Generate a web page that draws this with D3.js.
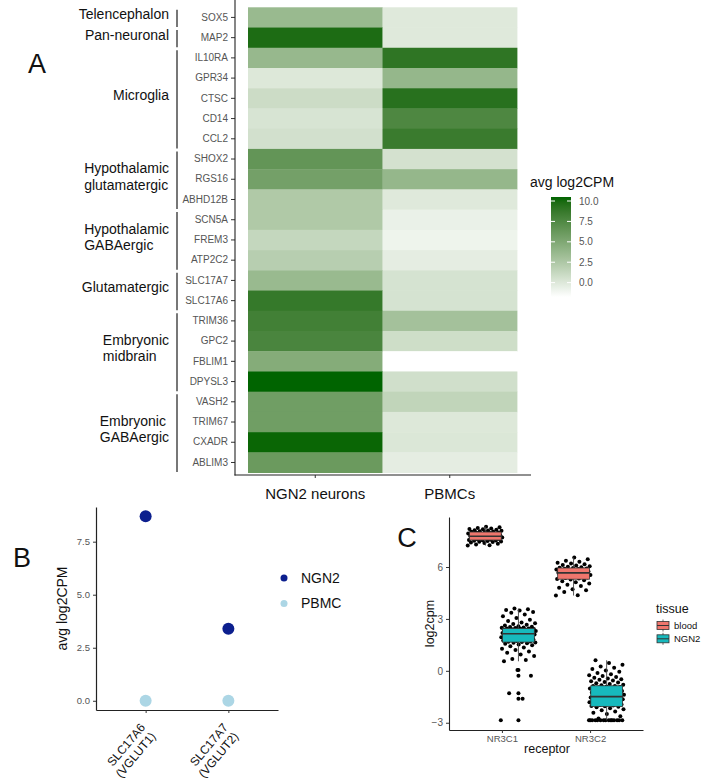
<!DOCTYPE html>
<html>
<head>
<meta charset="utf-8">
<script src="https://cdn.jsdelivr.net/npm/d3@7"></script>
<style>
body { margin: 0; background: #fff; }
svg { display: block; font-family: "Liberation Sans", Arial, sans-serif; }
</style>
</head>
<body>
<div id="chart"></div>
<script>
// ---- panel A: marker gene heatmap
const genes = ["SOX5","MAP2","IL10RA","GPR34","CTSC","CD14","CCL2","SHOX2","RGS16","ABHD12B","SCN5A","FREM3","ATP2C2","SLC17A7","SLC17A6","TRIM36","GPC2","FBLIM1","DPYSL3","VASH2","TRIM67","CXADR","ABLIM3"];
const ngn2Avg = [3.6, 9.8, 3.7, 0.0, 0.9, 0.3, 0.6, 6.5, 5.6, 2.4, 2.4, 1.3, 2.0, 3.6, 8.8, 8.2, 7.8, 4.7, 10.49, 5.8, 5.8, 10.3, 6.1];
const pbmcAvg = [-0.1, -0.1, 9.1, 3.8, 9.4, 7.6, 8.6, 0.5, 3.8, -0.1, -0.7, -0.9, -0.4, 0.4, 0.4, 3.0, 0.8, -1.76, 0.7, 1.5, 0.0, 0.1, -0.4];
const sampleTypes = ["NGN2 neurons", "PBMCs"];
const cellGroups = [
  {label: ["Telencephalon"], n: 1},
  {label: ["Pan-neuronal"], n: 1},
  {label: ["Microglia"], n: 5},
  {label: ["Hypothalamic", "glutamatergic"], n: 3},
  {label: ["Hypothalamic", "GABAergic"], n: 3},
  {label: ["Glutamatergic"], n: 2},
  {label: ["Embryonic", "midbrain"], n: 4},
  {label: ["Embryonic", "GABAergic"], n: 4}
];
const heatTicks = [0, 2.5, 5, 7.5, 10];

// ---- panel B: VGLUT expression
const vglutGenes = ["SLC17A6|(VGLUT1)", "SLC17A7|(VGLUT2)"];
const vglutNGN2 = [8.7, 3.4];
const vglutPBMC = [0.0, 0.0];
const vglutTicks = [0, 2.5, 5, 7.5];

// ---- panel C: glucocorticoid receptors
const receptors = ["NR3C1", "NR3C2"];
const tissues = ["blood", "NGN2"];
const tissueColors = ["#ef766d", "#17b9bd"];
const bloodNR3C1 = [7.24, 7.25, 7.30, 7.35, 7.38, 7.42, 7.44, 7.46, 7.48, 7.50, 7.52, 7.53, 7.55,
  7.56, 7.58, 7.60, 7.62, 7.64, 7.66, 7.68, 7.70, 7.71, 7.73, 7.74, 7.76, 7.77,
  7.79, 7.80, 7.82, 7.84, 7.86, 7.88, 7.90, 7.92, 7.94, 7.96, 7.98, 8.00, 8.02,
  8.03, 8.05, 8.07, 8.09, 8.11, 8.13, 8.15, 8.18, 8.20, 8.23, 8.26, 8.30, 8.33];
const bloodNR3C2 = [4.35, 4.37, 4.55, 4.65, 4.72, 4.80, 4.90, 4.98, 5.05, 5.12, 5.18, 5.23, 5.28,
  5.30, 5.33, 5.36, 5.39, 5.42, 5.45, 5.48, 5.51, 5.54, 5.57, 5.60, 5.62, 5.65,
  5.67, 5.69, 5.72, 5.74, 5.76, 5.78, 5.80, 5.83, 5.85, 5.88, 5.90, 5.92, 5.94,
  5.96, 5.99, 6.02, 6.05, 6.08, 6.12, 6.16, 6.20, 6.25, 6.30, 6.36, 6.45, 6.55];
const ngn2NR3C1 = [-2.86, -1.62, -1.30, -0.28, 0.05,
  0.55, 0.62, 0.68, 0.85, 0.95, 1.05, 1.12, 1.20, 1.28, 1.35, 1.42, 1.48, 1.52, 1.56, 1.60, 1.62, 1.64,
  1.66,
  1.68, 1.70, 1.73, 1.75, 1.78, 1.80, 1.83, 1.85, 1.88, 1.90, 1.92, 1.94, 1.96, 1.98, 2.00, 2.02, 2.04, 2.06, 2.08, 2.10, 2.12,
  2.14,
  2.15, 2.16, 2.18, 2.19, 2.20, 2.22, 2.23, 2.25, 2.26, 2.28, 2.30, 2.32, 2.34, 2.35, 2.36, 2.38, 2.39, 2.40, 2.42, 2.43, 2.44,
  2.45,
  2.47, 2.49, 2.51, 2.53, 2.55, 2.58, 2.62, 2.66, 2.70, 2.75, 2.80, 2.88, 2.95, 3.05, 3.15, 3.25, 3.35, 3.40, 3.48, 3.52, 3.56, 3.60];
const ngn2NR3C2 = [-2.86, -2.86, -2.86, -2.86, -2.86, -2.86, -2.86, -2.86, -2.86, -2.86, -2.86, -2.86, -2.86, -2.86, -2.86,
  -2.75, -2.62, -2.50, -2.42, -2.35, -2.28, -2.22, -2.16, -2.11, -2.07,
  -2.05,
  -2.03, -2.00, -1.97, -1.95, -1.92, -1.90, -1.87, -1.85, -1.82, -1.80, -1.78, -1.75, -1.73, -1.70, -1.68, -1.66, -1.64, -1.62, -1.60, -1.58, -1.56, -1.54, -1.52, -1.50,
  -1.48, -1.46, -1.44, -1.42, -1.40, -1.38, -1.35, -1.33, -1.30, -1.28, -1.25, -1.22, -1.20, -1.17, -1.14, -1.11, -1.08, -1.05, -1.02, -0.99, -0.96, -0.93, -0.90, -0.88, -0.87,
  -0.84, -0.80, -0.76, -0.72, -0.68, -0.64, -0.60, -0.56, -0.52, -0.48, -0.44, -0.40, -0.35, -0.30, -0.25, -0.20, -0.12, -0.05, 0.02, 0.10, 0.18, 0.25, 0.35, 0.45, 0.61];
const gcTicks = [-3, 0, 3, 6];

const W = 704, H = 780;
const svg = d3.select("#chart").append("svg").attr("width", W).attr("height", H);
svg.append("rect").attr("width", W).attr("height", H).attr("fill", "#fff");

const grey = "#555";

function panelLetter(t, x, y) {
  svg.append("text").attr("x", x).attr("y", y).attr("dy", "0.36em")
    .attr("text-anchor", "middle").attr("font-size", 27).attr("fill", "#111").text(t);
}

// ===================== A =====================
const ax = d3.scaleBand().domain(sampleTypes).range([248, 517]);
const ay = d3.scaleBand().domain(genes).range([7.3, 472.6]);
const heatRows = genes.flatMap((g, i) => [
  {gene: g, sample: sampleTypes[0], value: ngn2Avg[i]},
  {gene: g, sample: sampleTypes[1], value: pbmcAvg[i]}
]);
const heatColor = d3.scaleSequential(d3.interpolateLab("#ffffff", "#006400"))
  .domain(d3.extent(ngn2Avg.concat(pbmcAvg)));

const gA = svg.append("g");
gA.selectAll("rect.tile").data(heatRows).join("rect")
  .attr("class", "tile")
  .attr("x", d => ax(d.sample))
  .attr("y", d => ay(d.gene))
  .attr("width", ax.bandwidth() + 0.4)
  .attr("height", ay.bandwidth() + 0.4)
  .attr("fill", d => heatColor(d.value));

// axes
const yAxA = gA.append("g").attr("transform", "translate(235,0)")
  .call(d3.axisLeft(ay).tickSize(4).tickPadding(3));
yAxA.select(".domain").remove();
yAxA.selectAll("line").attr("stroke", "#333");
yAxA.selectAll("text").attr("font-size", 10).attr("fill", grey).attr("font-family", "Liberation Sans, Arial, sans-serif");

const xAxA = gA.append("g").attr("transform", "translate(0,475)")
  .call(d3.axisBottom(ax).tickSize(3).tickPadding(10));
xAxA.select(".domain").remove();
xAxA.selectAll("line").attr("stroke", "#333");
xAxA.selectAll("text").attr("font-size", 15).attr("fill", "#111").attr("font-family", "Liberation Sans, Arial, sans-serif");

gA.append("line").attr("x1", 235).attr("x2", 235).attr("y1", 0).attr("y2", 475.6)
  .attr("stroke", "#222").attr("stroke-width", 1.1);
gA.append("line").attr("x1", 234.5).attr("x2", 531).attr("y1", 475).attr("y2", 475)
  .attr("stroke", "#222").attr("stroke-width", 1.1);

// cell type brackets
let rowStart = 0;
cellGroups.forEach(grp => {
  const y0 = ay(genes[rowStart]);
  const y1 = ay(genes[rowStart + grp.n - 1]) + ay.bandwidth();
  gA.append("line").attr("x1", 177).attr("x2", 177).attr("y1", y0 + 2.5).attr("y2", y1 - 0.5)
    .attr("stroke", grey).attr("stroke-width", 1.6);
  const yc = (y0 + y1) / 2 - 3;
  const lines = grp.label.map((s, k) => gA.append("text")
    .attr("y", yc + (k - (grp.label.length - 1) / 2) * 16.7)
    .attr("dy", "0.35em").attr("font-size", 14).attr("fill", "#111").text(s));
  const maxW = d3.max(lines, t => t.node().getComputedTextLength());
  lines.forEach(t => t.attr("x", 169 - maxW));
  rowStart += grp.n;
});

// colour bar legend
const legY = d3.scaleLinear().domain(heatColor.domain()).range([297, 197]);
const defs = svg.append("defs");
const grad = defs.append("linearGradient").attr("id", "heatGrad")
  .attr("x1", 0).attr("x2", 0).attr("y1", 1).attr("y2", 0);
d3.range(0, 1.0001, 0.05).forEach(p => {
  const v = heatColor.domain()[0] + p * (heatColor.domain()[1] - heatColor.domain()[0]);
  grad.append("stop").attr("offset", p).attr("stop-color", heatColor(v));
});
gA.append("text").attr("x", 530).attr("y", 187).attr("font-size", 14).attr("fill", "#111").text("avg log2CPM");
gA.append("rect").attr("x", 551).attr("y", 197).attr("width", 20).attr("height", 100).attr("fill", "url(#heatGrad)");
heatTicks.forEach(v => {
  gA.append("line").attr("x1", 551).attr("x2", 555).attr("y1", legY(v)).attr("y2", legY(v)).attr("stroke", "#fff");
  gA.append("line").attr("x1", 567).attr("x2", 571).attr("y1", legY(v)).attr("y2", legY(v)).attr("stroke", "#fff");
  gA.append("text").attr("x", 579).attr("y", legY(v)).attr("dy", "0.35em")
    .attr("font-size", 10).attr("fill", grey).text(d3.format(".1f")(v));
});
panelLetter("A", 37, 63);

// ===================== B =====================
const gB = svg.append("g");
const bx = d3.scalePoint().domain(vglutGenes).range([96, 278]).padding(0.6);
const bMax = d3.max(vglutNGN2.concat(vglutPBMC)), bMin = d3.min(vglutNGN2.concat(vglutPBMC));
const bPad = (bMax - bMin) * 0.05;
const by = d3.scaleLinear().domain([bMin - bPad, bMax + bPad]).range([710, 507]);

const yAxB = gB.append("g").attr("transform", "translate(96,0)")
  .call(d3.axisLeft(by).tickValues(vglutTicks).tickFormat(d3.format(".1f")).tickSize(3).tickSizeOuter(0).tickPadding(3));
yAxB.select(".domain").attr("stroke", "#222").attr("stroke-width", 1.2);
yAxB.selectAll(".tick line").attr("stroke", "#333");
yAxB.selectAll("text").attr("font-size", 9.5).attr("fill", grey).attr("font-family", "Liberation Sans, Arial, sans-serif");

const xAxB = gB.append("g").attr("transform", "translate(0,710)")
  .call(d3.axisBottom(bx).tickSize(3).tickSizeOuter(0));
xAxB.select(".domain").attr("stroke", "#222").attr("stroke-width", 1.2);
xAxB.selectAll(".tick line").attr("stroke", "#333");
xAxB.selectAll("text").remove();
vglutGenes.forEach(g => {
  const parts = g.split("|");
  const t = gB.append("text")
    .attr("transform", `translate(${bx(g) - 3},725) rotate(-50)`)
    .attr("text-anchor", "end").attr("font-size", 12).attr("fill", "#111");
  parts.forEach((p, k) => t.append("tspan").attr("x", 0).attr("dy", k === 0 ? "0.35em" : "1.15em").text(p));
});

gB.append("text").attr("transform", "translate(62,608.5) rotate(-90)")
  .attr("text-anchor", "middle").attr("dy", "0.35em").attr("font-size", 14).attr("fill", "#111").text("avg log2CPM");

const bSeries = [
  {name: "NGN2", color: "#0c1f8e", values: vglutNGN2},
  {name: "PBMC", color: "#acd6e5", values: vglutPBMC}
];
bSeries.forEach(s => {
  gB.selectAll(null).data(s.values).join("circle")
    .attr("cx", (d, i) => bx(vglutGenes[i])).attr("cy", d => by(d))
    .attr("r", 6).attr("fill", s.color);
});
bSeries.forEach((s, k) => {
  const yy = 578 + k * 25.5;
  gB.append("circle").attr("cx", 284).attr("cy", yy).attr("r", 3.5).attr("fill", s.color);
  gB.append("text").attr("x", 301).attr("y", yy).attr("dy", "0.35em")
    .attr("font-size", 14).attr("fill", "#111").text(s.name);
});
panelLetter("B", 22, 557);

// ===================== C =====================
const gC = svg.append("g");
const groups = [
  {rec: 0, tis: 0, values: bloodNR3C1},
  {rec: 1, tis: 0, values: bloodNR3C2},
  {rec: 0, tis: 1, values: ngn2NR3C1},
  {rec: 1, tis: 1, values: ngn2NR3C2}
];
const allC = groups.flatMap(g => g.values);
const cMin = d3.min(allC), cMax = d3.max(allC), cPad = (cMax - cMin) * 0.05;
const cy = d3.scaleLinear().domain([cMin - cPad, cMax + cPad]).range([730, 517]);
const cxs = d3.scaleLinear().domain([0.4, 2.6]).range([449, 643]);
const dodge = 0.1875, boxW = 0.36, jitW = 0.2;

const yAxC = gC.append("g").attr("transform", "translate(449,0)")
  .call(d3.axisLeft(cy).tickValues(gcTicks).tickSize(3).tickSizeOuter(0).tickPadding(3));
yAxC.select(".domain").attr("stroke", "#222").attr("stroke-width", 1.1);
yAxC.selectAll(".tick line").attr("stroke", "#333");
yAxC.selectAll("text").attr("font-size", 10).attr("fill", grey).attr("font-family", "Liberation Sans, Arial, sans-serif");

const xAxC = gC.append("g").attr("transform", "translate(0,730)")
  .call(d3.axisBottom(cxs).tickValues([1, 2]).tickFormat(i => receptors[i - 1]).tickSize(3).tickSizeOuter(0).tickPadding(2));
xAxC.select(".domain").attr("stroke", "#222").attr("stroke-width", 1.1);
xAxC.selectAll(".tick line").attr("stroke", "#333");
xAxC.selectAll("text").attr("font-size", 9.5).attr("fill", grey).attr("font-family", "Liberation Sans, Arial, sans-serif");

gC.append("text").attr("x", 547).attr("y", 749).attr("dy", "0.35em").attr("text-anchor", "middle")
  .attr("font-size", 12.5).attr("fill", "#111").text("receptor");
gC.append("text").attr("transform", "translate(430,623.5) rotate(-90)")
  .attr("text-anchor", "middle").attr("dy", "0.35em").attr("font-size", 12.5).attr("fill", "#111").text("log2cpm");

groups.forEach(g => {
  const c = g.rec + 1 + (g.tis === 0 ? -dodge : dodge);
  const sorted = g.values.slice().sort(d3.ascending);
  const q1 = d3.quantile(sorted, 0.25), med = d3.quantile(sorted, 0.5), q3 = d3.quantile(sorted, 0.75);
  const iqr = q3 - q1;
  const lo = d3.min(sorted.filter(v => v >= q1 - 1.5 * iqr));
  const hi = d3.max(sorted.filter(v => v <= q3 + 1.5 * iqr));
  const outliers = sorted.filter(v => v < lo || v > hi);

  // jittered points
  gC.selectAll(null).data(g.values).join("circle")
    .attr("cx", (d, i) => cxs(c + (((i * 0.618034) % 1) * 2 - 1) * jitW))
    .attr("cy", d => cy(d)).attr("r", 2).attr("fill", "#000");

  const xm = cxs(c);
  gC.append("line").attr("x1", xm).attr("x2", xm).attr("y1", cy(hi)).attr("y2", cy(q3)).attr("stroke", "#444").attr("stroke-width", 0.9);
  gC.append("line").attr("x1", xm).attr("x2", xm).attr("y1", cy(q1)).attr("y2", cy(lo)).attr("stroke", "#444").attr("stroke-width", 0.9);
  gC.append("rect").attr("x", cxs(c - boxW / 2)).attr("width", cxs(c + boxW / 2) - cxs(c - boxW / 2))
    .attr("y", cy(q3)).attr("height", cy(q1) - cy(q3))
    .attr("fill", tissueColors[g.tis]).attr("stroke", "#333").attr("stroke-width", 0.8);
  gC.append("line").attr("x1", cxs(c - boxW / 2)).attr("x2", cxs(c + boxW / 2))
    .attr("y1", cy(med)).attr("y2", cy(med)).attr("stroke", "#333").attr("stroke-width", 1.6);
  gC.selectAll(null).data(outliers).join("circle")
    .attr("cx", xm).attr("cy", d => cy(d)).attr("r", 2).attr("fill", "#000");
});

// legend
gC.append("text").attr("x", 656).attr("y", 608.5).attr("dy", "0.35em")
  .attr("font-size", 12.5).attr("fill", "#111").text("tissue");
tissues.forEach((t, k) => {
  const yy = 625.5 + k * 13.3;
  gC.append("line").attr("x1", 663).attr("x2", 663).attr("y1", yy - 6).attr("y2", yy + 6).attr("stroke", "#444").attr("stroke-width", 0.8);
  gC.append("rect").attr("x", 657).attr("y", yy - 4).attr("width", 12).attr("height", 8)
    .attr("fill", tissueColors[k]).attr("stroke", "#333").attr("stroke-width", 0.8);
  gC.append("line").attr("x1", 657).attr("x2", 669).attr("y1", yy).attr("y2", yy).attr("stroke", "#333").attr("stroke-width", 1);
  gC.append("text").attr("x", 674).attr("y", yy).attr("dy", "0.35em")
    .attr("font-size", 9.5).attr("fill", "#111").text(t);
});
panelLetter("C", 407, 537);
</script>
</body>
</html>
